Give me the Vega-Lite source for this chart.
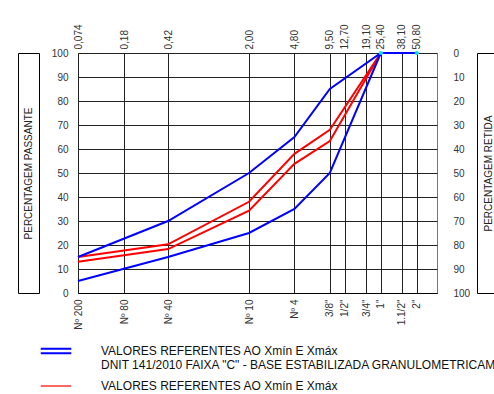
{
  "$schema": "https://vega.github.io/schema/vega-lite/v6.json",
  "width": 359,
  "height": 240,
  "autosize": "none",
  "padding": {"left": 78, "top": 53, "right": 57, "bottom": 101},
  "background": "white",
  "config": {
    "font": "Liberation Sans",
    "view": {"stroke": "#777"},
    "axis": {
      "labelFont": "Liberation Sans",
      "labelFontSize": 10,
      "labelColor": "#333",
      "ticks": false,
      "domain": false,
      "grid": false,
      "gridColor": "#222",
      "gridOpacity": 1,
      "titleFont": "Liberation Sans",
      "titleFontWeight": "normal",
      "titleFontSize": 10,
      "titleColor": "#222"
    }
  },
  "datasets": {
    "curvas": [
      {"grupo": "AMOSTRA", "curva": "amostra_max", "abertura": 0.074, "passante": 15},
      {"grupo": "AMOSTRA", "curva": "amostra_max", "abertura": 0.42, "passante": 20.3},
      {"grupo": "AMOSTRA", "curva": "amostra_max", "abertura": 2.0, "passante": 38},
      {"grupo": "AMOSTRA", "curva": "amostra_max", "abertura": 4.8, "passante": 58},
      {"grupo": "AMOSTRA", "curva": "amostra_max", "abertura": 9.5, "passante": 68},
      {"grupo": "AMOSTRA", "curva": "amostra_max", "abertura": 25.4, "passante": 100},
      {"grupo": "AMOSTRA", "curva": "amostra_max", "abertura": 50.8, "passante": 100},
      {"grupo": "AMOSTRA", "curva": "amostra_min", "abertura": 0.074, "passante": 13},
      {"grupo": "AMOSTRA", "curva": "amostra_min", "abertura": 0.42, "passante": 18.3},
      {"grupo": "AMOSTRA", "curva": "amostra_min", "abertura": 2.0, "passante": 34.3},
      {"grupo": "AMOSTRA", "curva": "amostra_min", "abertura": 4.8, "passante": 53.8},
      {"grupo": "AMOSTRA", "curva": "amostra_min", "abertura": 9.5, "passante": 63.3},
      {"grupo": "AMOSTRA", "curva": "amostra_min", "abertura": 25.4, "passante": 100},
      {"grupo": "AMOSTRA", "curva": "amostra_min", "abertura": 50.8, "passante": 100},
      {"grupo": "DNIT", "curva": "dnit_max", "abertura": 0.074, "passante": 15},
      {"grupo": "DNIT", "curva": "dnit_max", "abertura": 0.42, "passante": 30},
      {"grupo": "DNIT", "curva": "dnit_max", "abertura": 2.0, "passante": 50},
      {"grupo": "DNIT", "curva": "dnit_max", "abertura": 4.8, "passante": 65},
      {"grupo": "DNIT", "curva": "dnit_max", "abertura": 9.5, "passante": 85},
      {"grupo": "DNIT", "curva": "dnit_max", "abertura": 25.4, "passante": 100},
      {"grupo": "DNIT", "curva": "dnit_max", "abertura": 50.8, "passante": 100},
      {"grupo": "DNIT", "curva": "dnit_min", "abertura": 0.074, "passante": 5},
      {"grupo": "DNIT", "curva": "dnit_min", "abertura": 0.42, "passante": 15},
      {"grupo": "DNIT", "curva": "dnit_min", "abertura": 2.0, "passante": 25},
      {"grupo": "DNIT", "curva": "dnit_min", "abertura": 4.8, "passante": 35},
      {"grupo": "DNIT", "curva": "dnit_min", "abertura": 9.5, "passante": 50},
      {"grupo": "DNIT", "curva": "dnit_min", "abertura": 25.4, "passante": 100}
    ],
    "pontos": [
      {"abertura": 25.4, "passante": 100},
      {"abertura": 50.8, "passante": 100}
    ]
  },
  "layer": [
    {
      "data": {"name": "curvas"},
      "mark": {"type": "line", "strokeWidth": 2, "clip": false},
      "encoding": {
        "x": {
          "field": "abertura", "type": "quantitative",
          "scale": {"type": "log", "domain": [0.074, 75], "nice": false, "zero": false},
          "axis": {
            "orient": "bottom", "title": null, "grid": true,
            "domain": true, "domainColor": "#000",
            "values": [0.074, 0.18, 0.42, 2, 4.8, 9.5, 12.7, 19.1, 25.4, 38.1, 50.8],
            "labelExpr": "['Nº 200','Nº 80','Nº 40','Nº 10','Nº 4','3/8\"','1/2\"','3/4\"','1\"','1.1/2\"','2\"'][indexof([0.074, 0.18, 0.42, 2, 4.8, 9.5, 12.7, 19.1, 25.4, 38.1, 50.8], datum.value)]",
            "labelAngle": -90, "labelAlign": "right", "labelBaseline": "middle",
            "labelPadding": 6, "labelFlush": false, "labelOverlap": false
          }
        },
        "y": {
          "field": "passante", "type": "quantitative",
          "scale": {"domain": [0, 100], "nice": false},
          "axis": {
            "orient": "left", "title": null, "grid": true,
            "values": [0, 10, 20, 30, 40, 50, 60, 70, 80, 90, 100],
            "labelPadding": 10, "labelFlush": false, "labelOverlap": false
          }
        },
        "color": {
          "field": "grupo", "type": "nominal",
          "scale": {"domain": ["DNIT", "AMOSTRA"], "range": ["#0000ff", "#ff0000"]},
          "legend": {
            "orient": "none", "legendX": -28, "legendY": 292,
            "title": null, "padding": 0,
            "symbolType": "stroke", "symbolSize": 935, "symbolStrokeWidth": 2,
            "labelFont": "Liberation Sans", "labelFontSize": 12, "labelColor": "#111",
            "labelLimit": 2000, "labelOffset": 39, "rowPadding": 9,
            "labelExpr": "datum.value === 'DNIT' ? ['VALORES REFERENTES AO Xmín E Xmáx', 'DNIT 141/2010 FAIXA \"C\" - BASE ESTABILIZADA GRANULOMETRICAMENTE'] : 'VALORES REFERENTES AO Xmín E Xmáx'",
            "encode": {
              "symbols": {"update": {
                "shape": {"signal": "datum.value === 'DNIT' ? 'M-1,-0.14H1M-1,0.14H1' : 'M-1,0H1'"},
                "strokeWidth": {"signal": "datum.value === 'DNIT' ? 2 : 1.2"}
              }},
              "labels": {"update": {"lineHeight": {"value": 13.5}}}
            }
          }
        },
        "detail": {"field": "curva", "type": "nominal"}
      }
    },
    {
      "data": {"name": "pontos"},
      "mark": {"type": "point", "filled": true, "color": "#00e5ff", "size": 18, "opacity": 1, "clip": false},
      "encoding": {
        "x": {
          "field": "abertura", "type": "quantitative",
          "axis": {
            "orient": "top", "title": null,
            "values": [0.074, 0.18, 0.42, 2, 4.8, 9.5, 12.7, 19.1, 25.4, 38.1, 50.8],
            "labelExpr": "datum.value < 0.1 ? '0,074' : replace(format(datum.value, '.2f'), '.', ',')",
            "labelAngle": -90, "labelAlign": "left", "labelBaseline": "middle",
            "labelPadding": 4, "labelFlush": false, "labelOverlap": false
          }
        },
        "y": {
          "field": "passante", "type": "quantitative",
          "axis": {
            "orient": "right", "title": null,
            "values": [0, 10, 20, 30, 40, 50, 60, 70, 80, 90, 100],
            "labelExpr": "100 - datum.value",
            "labelPadding": 16, "labelAlign": "left", "labelFlush": false, "labelOverlap": false
          }
        }
      }
    },
    {
      "data": {"name": "pontos"},
      "mark": {"type": "point", "opacity": 0},
      "encoding": {
        "x": {"field": "abertura", "type": "quantitative", "axis": null},
        "y": {
          "field": "passante", "type": "quantitative",
          "axis": {
            "orient": "left", "offset": 39, "values": [0, 100],
            "labels": false, "ticks": true, "tickSize": 21, "tickColor": "#000",
            "domain": true, "domainColor": "#000",
            "title": "PERCENTAGEM PASSANTE", "titleAngle": -90,
            "titleX": -10.5, "titleY": 120, "titleAlign": "center", "titleBaseline": "middle"
          }
        }
      }
    },
    {
      "data": {"name": "pontos"},
      "mark": {"type": "point", "opacity": 0},
      "encoding": {
        "x": {"field": "abertura", "type": "quantitative", "axis": null},
        "y": {
          "field": "passante", "type": "quantitative",
          "axis": {
            "orient": "left", "offset": 60, "values": [0, 100],
            "labels": false, "ticks": false,
            "domain": true, "domainColor": "#000", "title": null
          }
        }
      }
    },
    {
      "data": {"name": "pontos"},
      "mark": {"type": "point", "opacity": 0},
      "encoding": {
        "x": {"field": "abertura", "type": "quantitative", "axis": null},
        "y": {
          "field": "passante", "type": "quantitative",
          "axis": {
            "orient": "right", "offset": 40, "values": [0, 100],
            "labels": false, "ticks": true, "tickSize": 21, "tickColor": "#000",
            "domain": true, "domainColor": "#000",
            "title": "PERCENTAGEM RETIDA", "titleAngle": -90,
            "titleX": 11, "titleY": 120, "titleAlign": "center", "titleBaseline": "middle"
          }
        }
      }
    }
  ],
  "resolve": {"axis": {"x": "independent", "y": "independent"}}
}
